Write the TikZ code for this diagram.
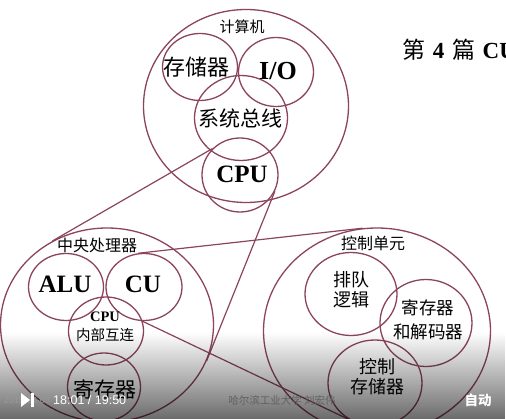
\documentclass[tikz,border=0pt]{standalone}
\usepackage{fontspec}
\setmainfont{Liberation Serif}
\setsansfont{Liberation Sans}
\newfontfamily\cjk{Noto Sans CJK SC}
\usepackage{xcolor}
\usetikzlibrary{shapes.geometric, fadings}
\definecolor{wine}{RGB}{140,68,94}
\tikzfading[name=fadedown, top color=transparent!100, bottom color=transparent!0]

\begin{document}
\begin{tikzpicture}[x=1pt, y=-1pt,
  ring/.style={ellipse, draw=wine, line width=1.3pt, inner sep=0pt},
  link/.style={draw=wine, line width=1.2pt},
  zh/.style={font=\cjk\fontsize{#1}{#1}\selectfont, align=center, inner sep=0pt},
  en/.style={font=\bfseries\fontsize{#1}{#1}\selectfont, inner sep=0pt},
  bar/.style={font=\sffamily\fontsize{#1}{#1}\selectfont, inner sep=0pt}
]
  \useasboundingbox (0,0) rectangle (506,419);
  \clip (0,0) rectangle (506,419);
  \fill[white] (0,0) rectangle (506,419);

  % computer
  \node[ring, minimum width=205pt, minimum height=193pt] (comp) at (246,106) {};
  \node[ring, minimum width=75pt, minimum height=67pt]   (mem)  at (200,67)  {};
  \node[ring, minimum width=75pt, minimum height=69pt]   (io)   at (276,72)  {};
  \node[ring, minimum width=93pt, minimum height=85pt]   (bus)  at (241,118) {};
  \node[ring, minimum width=76pt, minimum height=74pt]   (cpu)  at (240,175) {};
  \node[zh=15] (compT) at (242,27)  {计算机};
  \node[zh=22] (memT)  at (196,67)  {存储器};
  \node[en=26] (ioT)   at (278,71)  {I/O};
  \node[zh=21] (busT)  at (240,118) {系统总线};
  \node[en=25] (cpuT)  at (242,174) {CPU};

  % central processor
  \node[ring, minimum width=213pt, minimum height=194pt] (cpuL) at (107,325) {};
  \node[ring, minimum width=75pt, minimum height=67pt]   (alu)  at (66,287)  {};
  \node[ring, minimum width=76pt, minimum height=67pt]   (cu)   at (144,287) {};
  \node[ring, minimum width=75pt, minimum height=68pt]   (net)  at (106,331) {};
  \node[ring, minimum width=73pt, minimum height=68pt]   (reg)  at (104,387) {};
  \node[zh=16] (cpuLT) at (97,245)  {中央处理器};
  \node[en=25] (aluT)  at (65,284)  {ALU};
  \node[en=25] (cuT)   at (143,284) {CU};
  \node[zh=14.5] (netT) at (105,327) {{\rmfamily\bfseries CPU}\\[5pt]内部互连};
  \node[zh=21] (regT)  at (105,389) {寄存器};

  % control unit
  \node[ring, minimum width=227pt, minimum height=206pt] (ctrl)   at (377,331) {};
  \node[ring, minimum width=92pt, minimum height=83pt]   (queue)  at (351,294) {};
  \node[ring, minimum width=92pt, minimum height=87pt]   (dec)    at (426,323) {};
  \node[ring, minimum width=94pt, minimum height=86pt]   (cstore) at (375,383) {};
  \node[zh=16]   (ctrlT)   at (373,243) {控制单元};
  \node[zh=18]   (queueT)  at (351,290) {排队\\[2pt]逻辑};
  \node[zh=17.5] (decT)    at (428,320) {寄存器\\[7pt]和解码器};
  \node[zh=18]   (cstoreT) at (377,377) {控制\\[2pt]存储器};

  \draw[link] (cpu.136) -- (cpuL.123);
  \draw[link] (cpu.-25) -- (cpuL.-20);
  \draw[link] (cu.100)  -- (ctrl.98);
  \draw[link] (cu.-93)  -- (ctrl.-88);

  \node[anchor=west, inner sep=0pt, font=\fontsize{23}{23}\selectfont] (ttl) at (402,50)
    {{\cjk 第}\,\,\textbf{4}\,\,{\cjk 篇}\,\,\textbf{CU}};

  % player bar
  \fill[black, fill opacity=0.58, path fading=fadedown] (0,332) rectangle (506,419);
  \node[bar=9, text=black!40, anchor=east] (date) at (50,400) {2015-08-08};
  \fill[white] (21,393) -- (30,400) -- (21,407) -- cycle;
  \fill[white] (31,393) rectangle (34,407);
  \node[bar=12.5, text=white, anchor=west] (clock) at (53,400) {18:01 / 19:50};
  \node[zh=10.5, text=black!62] (author) at (282,400) {哈尔滨工业大学 刘宏伟};
  \node[zh=13.5, text=white, font=\cjk\bfseries\fontsize{13.5}{13.5}\selectfont] (auto) at (478,400) {自动};
\end{tikzpicture}
\end{document}
